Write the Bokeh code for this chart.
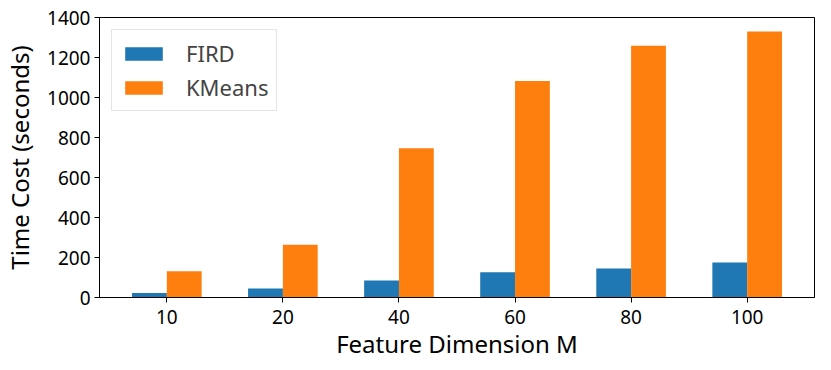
from bokeh.plotting import figure
from bokeh.models import FixedTicker, Range1d, Legend, LegendItem
from bokeh.embed import file_html
from bokeh.resources import INLINE

categories = ["10", "20", "40", "60", "80", "100"]
fird = [23, 45, 85, 126, 145, 175]
kmeans = [131, 264, 746, 1083, 1259, 1330]
y_ticks = [0, 200, 400, 600, 800, 1000, 1200, 1400]

FONT = "Noto Sans"
pos = list(range(len(categories)))
bw = 0.3

p = figure(frame_width=715, frame_height=280, output_backend="svg", toolbar_location=None,
           x_range=Range1d(-0.58, 5.58), y_range=Range1d(0, 1400),
           min_border_left=89, min_border_right=11, min_border_top=17, min_border_bottom=0)

r1 = p.vbar(x=[x - bw / 2 for x in pos], top=fird, width=bw, color="#1f77b4", line_color=None)
r2 = p.vbar(x=[x + bw / 2 for x in pos], top=kmeans, width=bw, color="#ff7f0e", line_color=None)

legend = Legend(items=[LegendItem(label="FIRD", renderers=[r1]),
                       LegendItem(label="KMeans", renderers=[r2])],
                location="top_left")
legend.label_text_font = FONT
legend.label_text_font_size = "22px"
legend.glyph_width = 47
legend.glyph_height = 17
legend.label_standoff = 19
legend.spacing = 4
legend.padding = 8
legend.margin = 12
legend.border_line_color = "#cccccc"
legend.border_line_width = 1
p.add_layout(legend)

p.grid.visible = False
p.outline_line_color = "black"
p.outline_line_width = 1

p.xaxis.ticker = FixedTicker(ticks=pos)
p.xaxis.major_label_overrides = {i: c for i, c in enumerate(categories)}
p.yaxis.ticker = FixedTicker(ticks=y_ticks)
for ax in (p.xaxis, p.yaxis):
    ax.minor_tick_line_color = None
    ax.major_tick_in = 0
    ax.major_tick_out = 5
    ax.major_label_text_font = FONT
    ax.major_label_text_font_size = "19px"
    ax.major_label_text_color = "black"
    ax.axis_label_text_font = FONT
    ax.axis_label_text_font_size = "24px"
    ax.axis_label_text_font_style = "normal"
    ax.axis_label_text_color = "black"
    ax.axis_line_color = "black"
    ax.major_tick_line_color = "black"
p.xaxis.axis_label = "Feature Dimension M"
p.yaxis.axis_label = "Time Cost (seconds)"
p.xaxis.axis_label_standoff = 0
p.yaxis.axis_label_standoff = 8
p.xaxis.major_label_standoff = 7
p.yaxis.major_label_standoff = 4

open("out.html", "w").write(file_html(p, INLINE))
